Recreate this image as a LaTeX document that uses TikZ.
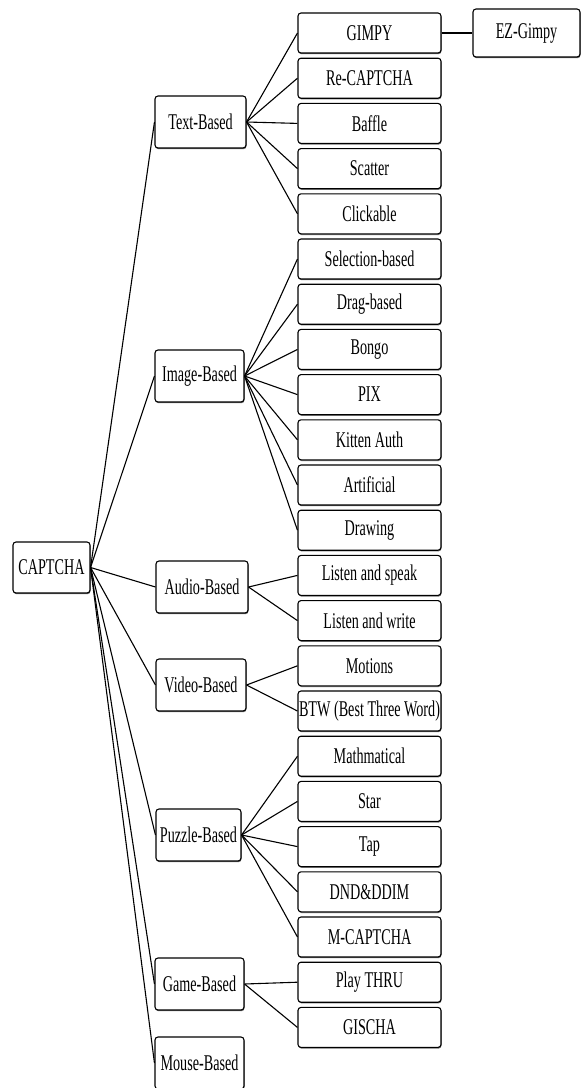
\documentclass[tikz,border=0pt]{standalone}
\usepackage{fontspec}
\setmainfont{Liberation Serif}
\usepackage{graphicx}
\usetikzlibrary{shadows}
\newcommand{\cn}[1]{\scalebox{0.63}[1]{#1}}
\begin{document}
\begin{tikzpicture}[x=1pt,y=-1pt,
  box/.style={draw, line width=1.1pt, rounded corners=3pt, fill=white, inner sep=0pt,
    font=\fontsize{22.5}{24}\selectfont,
    drop shadow={shadow xshift=0.5pt, shadow yshift=-1.2pt, fill=black!70, opacity=0.8}},
  leaf/.style={box, minimum width=143pt, minimum height=40pt},
  mid/.style={box, minimum height=52pt},
  link/.style={line width=1.1pt}]
\useasboundingbox (0,0) rectangle (581,1088);
% root
\node[box, minimum width=77pt, minimum height=51pt] (root) at (51.5,567.5) {\cn{CAPTCHA}};
% second level
\node[mid, minimum width=91pt] (tb) at (200.5,122) {\cn{Text-Based}};
\node[mid, minimum width=89pt] (ib) at (199.5,376) {\cn{Image-Based}};
\node[mid, minimum width=92pt] (ab) at (202,587) {\cn{Audio-Based}};
\node[mid, minimum width=90pt] (vb) at (201,685) {\cn{Video-Based}};
\node[mid, minimum width=85pt] (pb) at (198.5,835) {\cn{Puzzle-Based}};
\node[mid, minimum width=89pt] (gb) at (199.5,984) {\cn{Game-Based}};
\node[mid, minimum width=89pt] (mb) at (199.5,1063) {\cn{Mouse-Based}};
% leaves
\node[leaf] (l0) at (369.5,33) {\cn{GIMPY}};
\node[leaf] (l1) at (369.5,78.2) {\cn{Re-CAPTCHA}};
\node[leaf] (l2) at (369.5,123.4) {\cn{Baffle}};
\node[leaf] (l3) at (369.5,168.6) {\cn{Scatter}};
\node[leaf] (l4) at (369.5,213.8) {\cn{Clickable}};
\node[leaf] (l5) at (369.5,259) {\cn{Selection-based}};
\node[leaf] (l6) at (369.5,304.2) {\cn{Drag-based}};
\node[leaf] (l7) at (369.5,349.4) {\cn{Bongo}};
\node[leaf] (l8) at (369.5,394.6) {\cn{PIX}};
\node[leaf] (l9) at (369.5,439.8) {\cn{Kitten Auth}};
\node[leaf] (l10) at (369.5,485) {\cn{Artificial}};
\node[leaf] (l11) at (369.5,530.2) {\cn{Drawing}};
\node[leaf] (l12) at (369.5,575.4) {\cn{Listen and speak}};
\node[leaf] (l13) at (369.5,620.6) {\cn{Listen and write}};
\node[leaf] (l14) at (369.5,665.8) {\cn{Motions}};
\node[leaf] (l15) at (369.5,711) {\cn{BTW (Best Three Word)}};
\node[leaf] (l16) at (369.5,756.2) {\cn{Mathmatical}};
\node[leaf] (l17) at (369.5,801.4) {\cn{Star}};
\node[leaf] (l18) at (369.5,846.6) {\cn{Tap}};
\node[leaf] (l19) at (369.5,891.8) {\cn{DND\&DDIM}};
\node[leaf] (l20) at (369.5,937) {\cn{M-CAPTCHA}};
\node[leaf] (l21) at (369.5,982.2) {\cn{Play THRU}};
\node[leaf] (l22) at (369.5,1027.4) {\cn{GISCHA}};
\node[box, minimum width=107pt, minimum height=48pt] (ez) at (526.5,33) {\cn{EZ-Gimpy}};
% connectors
\foreach \n in {tb,ib,ab,vb,pb,gb,mb} \draw[link] (root.east) -- (\n.west);
\foreach \i in {0,...,4} \draw[link] (tb.east) -- (l\i.west);
\foreach \i in {5,...,11} \draw[link] (ib.east) -- (l\i.west);
\foreach \i in {12,13} \draw[link] (ab.east) -- (l\i.west);
\foreach \i in {14,15} \draw[link] (vb.east) -- (l\i.west);
\foreach \i in {16,...,20} \draw[link] (pb.east) -- (l\i.west);
\foreach \i in {21,22} \draw[link] (gb.east) -- (l\i.west);
\draw[link] (l0.east) -- (ez.west);
\end{tikzpicture}
\end{document}
